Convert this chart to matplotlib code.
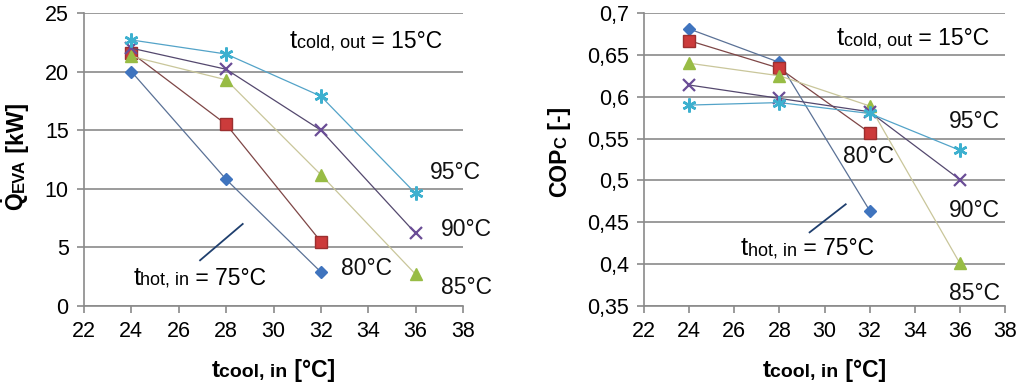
import matplotlib
matplotlib.use("Agg")
import matplotlib.pyplot as plt

plt.rcParams["font.family"] = ["Liberation Sans", "DejaVu Sans"]
plt.rcParams["mathtext.fontset"] = "custom"
plt.rcParams["mathtext.rm"] = "Liberation Sans"
plt.rcParams["mathtext.bf"] = "Liberation Sans:bold"

# data
t_cool = [24, 28, 32, 36]
series_names = ["75°C", "80°C", "85°C", "90°C", "95°C"]

q_eva = {
    "75°C": [20.0, 10.8, 2.9],
    "80°C": [21.6, 15.5, 5.5],
    "85°C": [21.3, 19.3, 11.2, 2.7],
    "90°C": [22.0, 20.2, 15.0, 6.2],
    "95°C": [22.7, 21.5, 17.9, 9.6],
}
cop_c = {
    "75°C": [0.681, 0.641, 0.464],
    "80°C": [0.667, 0.634, 0.557],
    "85°C": [0.640, 0.625, 0.589, 0.401],
    "90°C": [0.614, 0.598, 0.582, 0.501],
    "95°C": [0.590, 0.593, 0.580, 0.536],
}

x_ticks = [22, 24, 26, 28, 30, 32, 34, 36, 38]
q_ticks = [0, 5, 10, 15, 20, 25]
cop_ticks = [0.35, 0.4, 0.45, 0.5, 0.55, 0.6, 0.65, 0.7]

# marker / line styles per series
styles = {
    "75°C": dict(marker="D", ms=6.5, mfc="#3F74BE", mec="#3F74BE", color="#5A7196"),
    "80°C": dict(marker="s", ms=8.5, mfc="#CC3B3B", mec="#9C2F2F", color="#7E4646"),
    "85°C": dict(marker="^", ms=9, mfc="#98BC45", mec="#98BC45", color="#C9C69A"),
    "90°C": dict(marker="x", ms=9, mfc="none", mec="#6A4D96", mew=1.6, color="#54486E"),
    "95°C": dict(marker=(6, 2, 0), ms=10, mfc="none", mec="#3DB0CF", mew=1.8, color="#53A3C8"),
}

GRID = "#8A8A8A"
FS = 15.5
LAB = 16.5
SMALL = 12


def style_axes(ax, ylim, yticks, fmt):
    ax.set_xlim(22, 38)
    ax.set_ylim(*ylim)
    ax.set_xticks(x_ticks)
    ax.set_yticks(yticks)
    ax.set_yticklabels([fmt(v) for v in yticks])
    for s in ["top", "right"]:
        ax.spines[s].set_visible(False)
    for s in ["left", "bottom"]:
        ax.spines[s].set_color(GRID)
        ax.spines[s].set_linewidth(1.2)
    ax.grid(True, axis="y", color=GRID, linewidth=1.2)
    ax.set_axisbelow(True)
    ax.tick_params(axis="both", labelsize=FS, color=GRID, width=1.2,
                   length=5, direction="out", pad=6)


def rich_text(fig, renderer, cx, cy, pieces, rotation=0):
    """pieces placed along the baseline, centred on (cx, cy) in pixels"""
    texts = []
    for s, size, weight in pieces:
        t = fig.text(0, 0, s, fontsize=size, fontweight=weight,
                     rotation=rotation, rotation_mode="anchor",
                     ha="left", va="baseline", transform=None)
        texts.append(t)
    lengths = []
    for t in texts:
        bb = t.get_window_extent(renderer)
        lengths.append(bb.height if rotation == 90 else bb.width)
    total = sum(lengths)
    pos = -total / 2
    for t, ln in zip(texts, lengths):
        if rotation == 90:
            t.set_position((cx, cy + pos))
        else:
            t.set_position((cx + pos, cy))
        pos += ln
    return texts


def data_rich(ax, renderer, x, y, pieces):
    """left-aligned rich text, start at data coords, vertical centre at y"""
    px, py = ax.transData.transform((x, y))
    texts = []
    for s, size, weight in pieces:
        t = ax.figure.text(0, 0, s, fontsize=size, fontweight=weight,
                           ha="left", va="baseline", transform=None)
        texts.append(t)
    pos = px
    for t in texts:
        t.set_position((pos, py - 8))
        pos += t.get_window_extent(renderer).width


fig = plt.figure(figsize=(10.24, 3.87), dpi=100)
H = 387
ax1 = fig.add_axes([84 / 1024, 1 - 306 / H, 379 / 1024, 293 / H])
ax2 = fig.add_axes([644 / 1024, 1 - 306 / H, 361 / 1024, 293 / H])

for name in series_names:
    st = styles[name]
    y1 = q_eva[name]
    ax1.plot(t_cool[:len(y1)], y1, lw=0.9, zorder=3, **st)
    y2 = cop_c[name]
    ax2.plot(t_cool[:len(y2)], y2, lw=0.9, zorder=3, **st)

style_axes(ax1, (0, 25), q_ticks, lambda v: f"{v:d}")
style_axes(ax2, (0.35, 0.7), cop_ticks,
           lambda v: (f"{v:.2f}".rstrip("0").rstrip(".")).replace(".", ","))

# pointer lines to the 75°C series
ax1.plot([26.9, 28.7], [3.9, 7.0], color="#1F3F6E", lw=1.3)
ax2.plot([29.34, 30.94], [0.438, 0.4715], color="#1F3F6E", lw=1.3)

# series labels
lab = dict(fontsize=LAB, ha="center", va="center", color="#111111")
ax1.text(37.66, 11.35, "95°C", **lab)
ax1.text(38.15, 6.5, "90°C", **lab)
ax1.text(38.15, 1.6, "85°C", **lab)
ax1.text(33.93, 3.2, "80°C", **lab)
ax2.text(36.65, 0.570, "95°C", **lab)
ax2.text(31.93, 0.528, "80°C", **lab)
ax2.text(36.65, 0.464, "90°C", **lab)
ax2.text(36.65, 0.365, "85°C", **lab)
for t in ax1.texts + ax2.texts:
    t.set_clip_on(False)

fig.canvas.draw()
renderer = fig.canvas.get_renderer()

cold = [("t", LAB + 2, "normal"), ("cold, out", SMALL + 1, "normal"), (" = 15°C", LAB, "normal")]
hot = [("t", LAB + 2, "normal"), ("hot, in", SMALL + 1, "normal"), (" = 75°C", LAB, "normal")]
data_rich(ax1, renderer, 30.7, 22.7, cold)
data_rich(ax1, renderer, 24.08, 2.5, hot)
data_rich(ax2, renderer, 30.53, 0.671, cold)
data_rich(ax2, renderer, 26.3, 0.420, hot)

# axis titles (pixel coords, origin bottom-left)
xlab = [("t", LAB + 1, "bold"), ("cool, in", SMALL + 2, "bold"), (" [°C]", LAB, "bold")]
rich_text(fig, renderer, 273, H - 377, xlab)
rich_text(fig, renderer, 824, H - 377, xlab)
rich_text(fig, renderer, 24, H - 157,
          [(r"$\mathbf{\dot{Q}}$", LAB, "bold"), ("EVA", SMALL, "bold"), (" [kW]", LAB, "bold")],
          rotation=90)
rich_text(fig, renderer, 566, H - 152,
          [("COP", LAB, "bold"), ("C", SMALL, "bold"), (" [-]", LAB, "bold")],
          rotation=90)

fig.savefig("out.png", dpi=100)
